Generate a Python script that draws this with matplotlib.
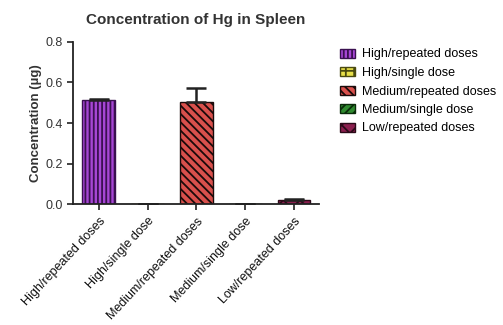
import matplotlib.pyplot as plt
import numpy as np

plt.rcParams['font.family'] = ['Liberation Sans', 'DejaVu Sans']
plt.rcParams['hatch.linewidth'] = 1.3

groups = ['High/repeated doses', 'High/single dose', 'Medium/repeated doses',
          'Medium/single dose', 'Low/repeated doses']
means = [0.514, 0.0, 0.504, 0.002, 0.020]
sem = [0.002, 0.0, 0.069, 0.0, 0.003]

colors = ['#a646d4', '#e8e04a', '#d9504c', '#2f8a2f', '#8a1f4e']
edges = ['#3a1050', '#4a4a10', '#1a0a0a', '#0a2a0a', '#2a0a18']
hatches = ['||||', '++', '\\\\\\\\', '////', 'xx']

fig = plt.figure(figsize=(5.03, 3.25), dpi=100)
ax = fig.add_axes([0.145, 0.372, 0.489, 0.499])

x = np.arange(len(groups))
bars = ax.bar(x, means, width=0.67, color=colors, edgecolor=edges,
              linewidth=1.0, zorder=2)
for b, h in zip(bars, hatches):
    b.set_hatch(h)

# only the upper error bar, GraphPad style
ax.errorbar(x, means, yerr=[np.zeros(len(sem)), sem], fmt='none',
            ecolor='#222222', elinewidth=1.8, capsize=7.5, capthick=1.8,
            zorder=3)

ax.set_xlim(-0.53, 4.51)
ax.set_ylim(0, 0.8)
ax.set_yticks([0.0, 0.2, 0.4, 0.6, 0.8])
ax.set_yticklabels(['0.0', '0.2', '0.4', '0.6', '0.8'], fontsize=9,
                   color='#333333')
ax.set_xticks(x)
ax.set_xticklabels(groups, rotation=47, ha='right', rotation_mode='anchor',
                   fontsize=9, color='#111111')
ax.tick_params(axis='both', length=4, width=1.2, color='#222222')
ax.tick_params(axis='x', pad=4)
for s in ['top', 'right']:
    ax.spines[s].set_visible(False)
for s in ['left', 'bottom']:
    ax.spines[s].set_linewidth(1.3)
    ax.spines[s].set_color('#222222')

ax.set_ylabel('Concentration (µg)', fontsize=9.5, fontweight='bold',
              color='#333333', labelpad=2)
ax.set_title('Concentration of Hg in Spleen', fontsize=11,
             fontweight='bold', color='#333333', pad=13)

fig.legend(bars, groups, loc='upper left', bbox_to_anchor=(0.663, 0.87),
           frameon=False, fontsize=9, handlelength=1.25, handleheight=0.7,
           labelspacing=0.52, handletextpad=0.55, borderpad=0)

fig.savefig('out.png', dpi=100)
